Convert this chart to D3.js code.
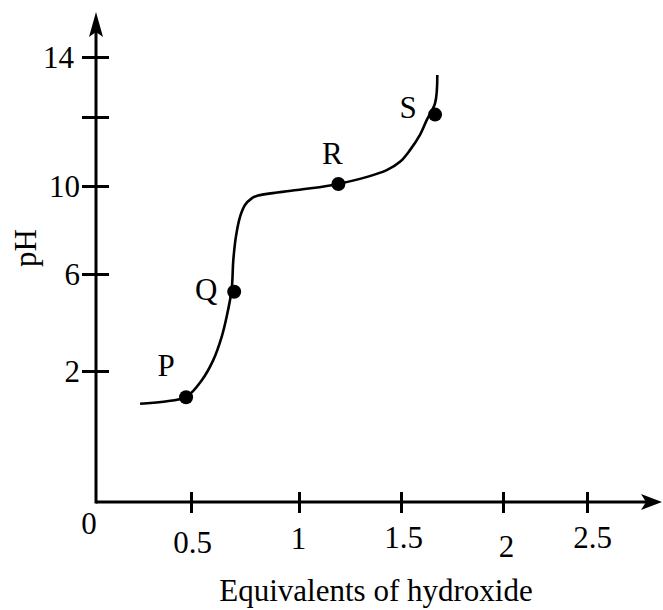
<!DOCTYPE html>
<html>
<head>
<meta charset="utf-8">
<script src="https://cdn.jsdelivr.net/npm/d3@7"></script>
<style>
  html, body { margin: 0; padding: 0; background: #fff; }
  svg { display: block; }
  text { font-family: "Liberation Serif", "Times New Roman", serif; fill: #000; }
</style>
</head>
<body>
<svg id="chart" width="663" height="610"></svg>
<script>
// ---------- data ----------
const xTickValues = [0.5, 1, 1.5, 2, 2.5];
const xTickLabels = ["0.5", "1", "1.5", "2", "2.5"];
const yTickValues = [2, 6, 10, 12, 14];
const yTickLabels = ["2", "6", "10", "", "14"];
const curveX = [0.232, 0.354, 0.477, 0.550, 0.603, 0.642, 0.665, 0.688, 0.696, 0.708, 0.727, 0.750, 0.781, 0.804, 0.991, 1.193, 1.430, 1.495, 1.544, 1.593, 1.626, 1.667, 1.678];
const curveY = [1.50, 1.53, 1.61, 1.86, 2.45, 3.41, 4.24, 5.34, 6.64, 7.70, 8.60, 9.14, 9.44, 9.55, 9.82, 10.06, 10.46, 10.70, 11.04, 11.48, 11.91, 12.46, 13.40];
const pointNames = ["P", "Q", "R", "S"];
const pointX = [0.474, 0.700, 1.193, 1.667];
const pointY = [1.60, 5.27, 10.06, 12.08];
const xTitle = "Equivalents of hydroxide";
const yTitle = "pH";

// ---------- layout ----------
const svg = d3.select("#chart");
const FONT = 31;
const SERIF = "'Liberation Serif', 'Times New Roman', serif";
// the drawing's axes are hand-spaced, so the scales are piecewise linear
const x = d3.scaleLinear().domain([0, 0.5, 1, 1.5, 2, 2.5]).range([96, 191, 299, 401, 503, 587]);
const y = d3.scaleLinear().domain([0, 2, 6, 10, 12, 14]).range([502, 371, 274, 186, 117, 57]);
const x0 = x(0), y0 = y(0);
const xEnd = 662, yEnd = 12;

// axis lines with arrowheads
svg.append("line").attr("x1", x0).attr("y1", y0).attr("x2", xEnd - 12).attr("y2", y0)
  .attr("stroke", "#000").attr("stroke-width", 3);
svg.append("line").attr("x1", x0).attr("y1", y0 + 1.5).attr("x2", x0).attr("y2", yEnd + 12)
  .attr("stroke", "#000").attr("stroke-width", 3);
svg.append("path")
  .attr("d", `M${xEnd},${y0} L${xEnd - 21},${y0 - 8} L${xEnd - 16},${y0} L${xEnd - 21},${y0 + 8} Z`)
  .attr("fill", "#000");
svg.append("path")
  .attr("d", `M${x0},${yEnd} L${x0 - 7},${yEnd + 25} L${x0},${yEnd + 20} L${x0 + 7},${yEnd + 25} Z`)
  .attr("fill", "#000");

// y axis ticks via d3.axisLeft
const yLabelX = [-16, -16, -16, -16, -22];
const yAxis = svg.append("g").attr("transform", `translate(${x0},0)`)
  .call(d3.axisLeft(y).tickValues(yTickValues).tickSize(14)
    .tickFormat((d, i) => yTickLabels[i]));
yAxis.select(".domain").remove();
yAxis.selectAll(".tick line").attr("x1", -14).attr("x2", 13)
  .attr("stroke", "#000").attr("stroke-width", 3);
yAxis.selectAll(".tick text")
  .attr("x", (d, i) => yLabelX[i]).attr("dy", "0.35em")
  .style("font-family", SERIF)
  .style("font-size", FONT + "px").attr("fill", "#000");

// x axis ticks via d3.axisBottom
const xLabelDy = [51, 47, 46, 55, 46];
const xLabelDx = [1, -1, 2, 3, 5];
const xAxis = svg.append("g").attr("transform", `translate(0,${y0})`)
  .call(d3.axisBottom(x).tickValues(xTickValues).tickSize(11)
    .tickFormat((d, i) => xTickLabels[i]));
xAxis.select(".domain").remove();
xAxis.selectAll(".tick line").attr("y1", -10).attr("y2", 11)
  .attr("stroke", "#000").attr("stroke-width", 3);
xAxis.selectAll(".tick text")
  .attr("y", (d, i) => xLabelDy[i]).attr("dy", 0)
  .attr("dx", (d, i) => xLabelDx[i])
  .style("font-family", SERIF)
  .style("font-size", FONT + "px").attr("fill", "#000");

// origin label
svg.append("text").attr("x", x0 - 7).attr("y", y0 + 32).attr("text-anchor", "middle")
  .style("font-size", FONT + "px").text("0");

// axis titles
svg.append("text").attr("x", 376).attr("y", 601).attr("text-anchor", "middle")
  .style("font-size", FONT + "px").text(xTitle);
svg.append("text").attr("transform", `translate(36,${(y(6) + y(10)) / 2 + 18}) rotate(-90)`)
  .attr("text-anchor", "middle")
  .style("font-size", FONT + "px").text(yTitle);

// curve
const pts = curveX.map((v, i) => [x(v), y(curveY[i])]);
svg.append("path").datum(pts)
  .attr("d", d3.line().curve(d3.curveCatmullRom.alpha(0.5)))
  .attr("fill", "none").attr("stroke", "#000").attr("stroke-width", 2.6);

// labelled points
const labelOffset = { P: [-20, -21], Q: [-28, 8], R: [-6, -20], S: [-27, 3] };
pointNames.forEach((name, i) => {
  const px = x(pointX[i]), py = y(pointY[i]);
  svg.append("circle").attr("cx", px).attr("cy", py).attr("r", 7).attr("fill", "#000");
  const [dx, dy] = labelOffset[name];
  svg.append("text").attr("x", px + dx).attr("y", py + dy).attr("text-anchor", "middle")
    .style("font-size", FONT + "px").text(name);
});
</script>
</body>
</html>
